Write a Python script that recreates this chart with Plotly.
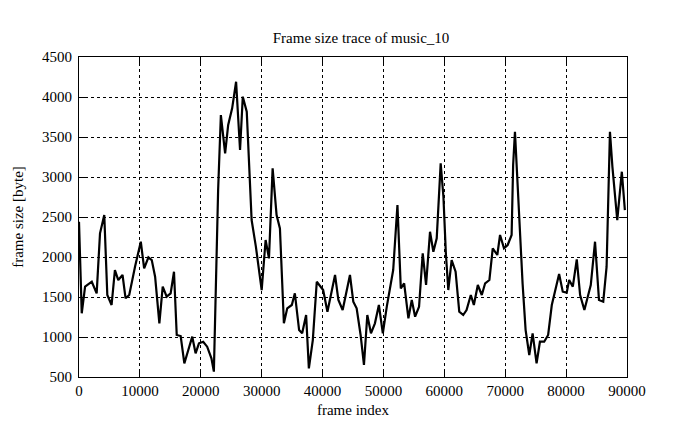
import plotly.graph_objects as go

frame_index = [0, 450, 1000, 2100, 2900, 3450, 4150, 4650, 5350, 5900, 6450, 7150, 7650, 8250, 9200,
               10150, 10700, 11400, 11950, 12500, 13200, 13750, 14400, 15050, 15600, 16050, 16700,
               17300, 17950, 18600, 19150, 19700, 20400, 21050, 21750, 22150, 22850, 23300, 24000,
               24500, 25150, 25800, 26450, 26900, 27550, 28350, 29050, 30000, 30650, 31200, 31800,
               32450, 33000, 33650, 34200, 34950, 35450, 36150, 36650, 37300, 37750, 38400, 39050,
               40100, 40800, 42050, 42600, 43300, 44500, 45050, 45600, 46250, 46800, 47350, 47950,
               48600, 49250, 49900, 50550, 51100, 51600, 52300, 52850, 53400, 54100, 54650, 55200,
               55850, 56450, 57000, 57650, 58200, 58750, 59400, 59850, 60250, 60650, 61200, 61850,
               62450, 63100, 63650, 64350, 64850, 65500, 66150, 66700, 67400, 67950, 68700, 69150,
               69800, 70400, 71050, 71300, 71600, 71900, 72300, 72850, 73350, 73950, 74500, 75150,
               75700, 76400, 77050, 77650, 78850, 79450, 80100, 80500, 81100, 81750, 82300, 83000,
               84050, 84750, 85400, 86100, 86650, 87200, 87600, 87900, 88400, 89150, 89650]

frame_size = [2440, 1296, 1629, 1691, 1546, 2296, 2525, 1525, 1400, 1837, 1712, 1775, 1484, 1525, 1879,
              2191, 1858, 1996, 1962, 1754, 1171, 1629, 1504, 1546, 1816, 1025, 1012,
              671, 837, 1004, 796, 921, 941, 879, 733, 567, 2837, 3775, 3296,
              3650, 3858, 4191, 3337, 4004, 3816, 2462, 2129, 1587, 2212, 1983, 3108,
              2525, 2358, 1171, 1358, 1400, 1546, 1087, 1046, 1275, 608, 962, 1691,
              1587, 1316, 1775, 1462, 1337, 1775, 1441, 1358, 1025, 650, 1275, 1046,
              1171, 1400, 1046, 1379, 1629, 1837, 2650, 1608, 1671, 1233, 1462, 1254,
              1379, 2046, 1650, 2316, 2066, 2233, 3171, 2754, 2046, 1587, 1962, 1816,
              1316, 1275, 1337, 1525, 1400, 1650, 1525, 1671, 1712, 2108, 2025, 2275,
              2108, 2150, 2275, 3150, 3566, 3129, 2421, 1671, 1087, 775, 1046, 671,
              941, 941, 1025, 1400, 1787, 1566, 1554, 1712, 1629, 1971, 1525, 1337,
              1650, 2191, 1462, 1441, 1879, 3566, 3129, 2900, 2462, 3066, 2587]

x_ticks = [0, 10000, 20000, 30000, 40000, 50000, 60000, 70000, 80000, 90000]
y_ticks = [500, 1000, 1500, 2000, 2500, 3000, 3500, 4000, 4500]

FONT = "Liberation Serif, Times New Roman, serif"

fig = go.Figure()
fig.add_trace(go.Scatter(x=frame_index, y=frame_size, mode="lines",
                         line=dict(color="black", width=2.2), showlegend=False))

axis_common = dict(
    showline=True, linecolor="black", linewidth=1, mirror="ticks",
    ticks="inside", ticklen=6, tickcolor="black", tickwidth=1,
    showgrid=True, gridcolor="black", gridwidth=1, griddash="dot",
    zeroline=False, automargin=False,
    tickfont=dict(family=FONT, size=15, color="black"),
)

fig.update_layout(
    width=695, height=429,
    margin=dict(l=71, r=76, t=49, b=60),
    paper_bgcolor="white", plot_bgcolor="white",
    title=dict(text="Frame size trace of music_10", x=0.508, xanchor="center",
               y=1 - 30 / 429, yanchor="middle",
               font=dict(family=FONT, size=15, color="black")),
    xaxis=dict(range=[0, 90000], tickvals=x_ticks, ticktext=[str(v) for v in x_ticks],
               title=dict(text="frame index", font=dict(family=FONT, size=15, color="black"), standoff=6),
               **axis_common),
    yaxis=dict(range=[500, 4500], tickvals=y_ticks, ticktext=[str(v) for v in y_ticks],
               ticklabelstandoff=3,
               title=dict(text="frame size [byte]", font=dict(family=FONT, size=15, color="black"), standoff=14),
               **axis_common),
)

fig.write_html("out.html")
